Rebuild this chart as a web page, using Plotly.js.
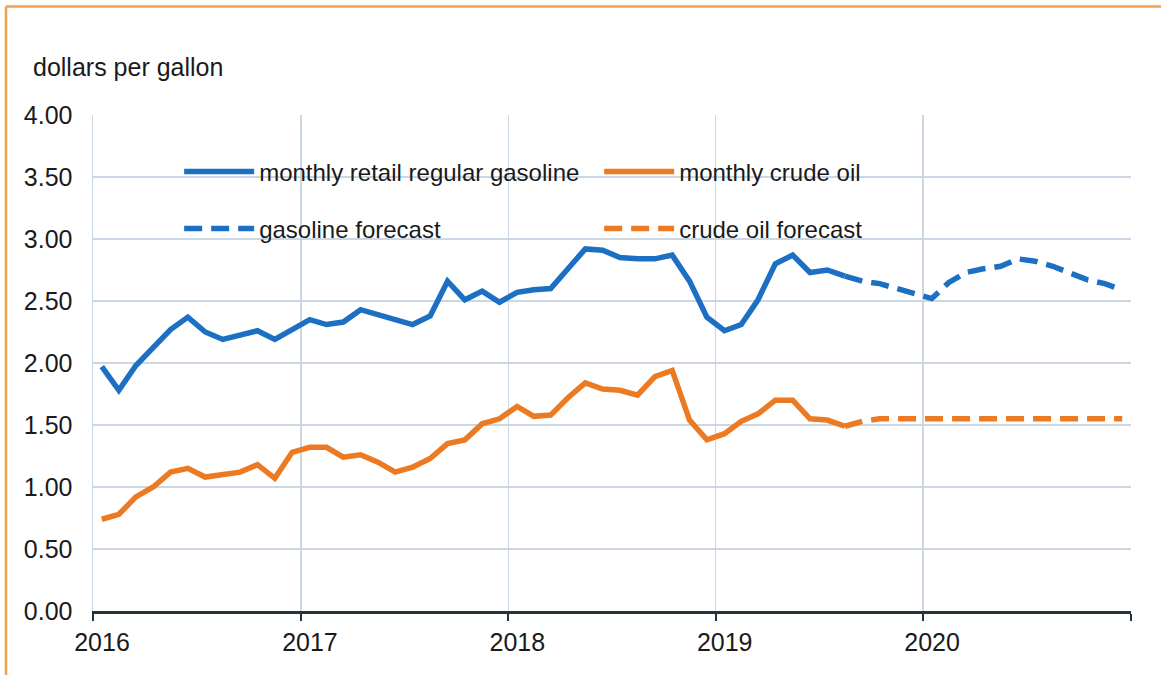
<!DOCTYPE html>
<html>
<head>
<meta charset="utf-8">
<script src="https://cdn.plot.ly/plotly-3.0.1.min.js"></script>
<style>
html,body{margin:0;padding:0;background:#ffffff;}
#chart{width:1161px;height:675px;}
</style>
</head>
<body>
<div id="chart"></div>
<script>
// Month categories Jan 2016 .. Dec 2020
const years = [2016, 2017, 2018, 2019, 2020];
const months = [];
years.forEach(function (y) {
  for (let m = 1; m <= 12; m++) months.push(y + '-' + (m < 10 ? '0' + m : m));
});

// Monthly history (Jan 2016 .. Aug 2019)
const gasoline = [1.97, 1.78, 1.98, 2.12, 2.27, 2.37, 2.25, 2.19, 2.23, 2.26, 2.19, 2.27,
                  2.35, 2.31, 2.33, 2.43, 2.39, 2.35, 2.31, 2.38, 2.66, 2.51, 2.58, 2.49,
                  2.57, 2.59, 2.60, 2.76, 2.92, 2.91, 2.85, 2.84, 2.84, 2.87, 2.66, 2.37,
                  2.26, 2.31, 2.51, 2.80, 2.87, 2.73, 2.75, 2.70];
const crude = [0.74, 0.78, 0.92, 1.00, 1.12, 1.15, 1.08, 1.10, 1.12, 1.18, 1.07, 1.28,
               1.32, 1.32, 1.24, 1.26, 1.20, 1.12, 1.16, 1.23, 1.35, 1.38, 1.51, 1.55,
               1.65, 1.57, 1.58, 1.72, 1.84, 1.79, 1.78, 1.74, 1.89, 1.94, 1.54, 1.38,
               1.43, 1.53, 1.59, 1.70, 1.70, 1.55, 1.54, 1.49];

// Forecast (Aug 2019 .. Dec 2020)
const gasolineForecast = [2.70, 2.66, 2.64, 2.60, 2.55, 2.52, 2.65, 2.73, 2.76, 2.78,
                          2.84, 2.82, 2.78, 2.72, 2.67, 2.64, 2.59];
const crudeForecast = [1.49, 1.53, 1.55, 1.55, 1.55, 1.55, 1.55, 1.55, 1.55, 1.55,
                       1.55, 1.55, 1.55, 1.55, 1.55, 1.55, 1.55];

const histMonths = months.slice(0, gasoline.length);
const fcMonths = months.slice(gasoline.length - 1, gasoline.length - 1 + gasolineForecast.length);

const yearTicks = ['2016-01-01', '2017-01-01', '2018-01-01', '2019-01-01', '2020-01-01', '2021-01-01'];
const yearLabels = ['2016', '2017', '2018', '2019', '2020', ''];
const yTicks = [0, 0.5, 1, 1.5, 2, 2.5, 3, 3.5, 4];

const BLUE = '#1c6fc3';
const ORANGE = '#ec7a22';
const GRID = '#cbd7e2';
const TEXT = '#1a1a1a';
const FONT = 'Liberation Sans, Arial, sans-serif';

const common = {mode: 'lines', xperiod: 'M1', xperiodalignment: 'middle', hoverinfo: 'x+y'};

const traces = [
  Object.assign({x: histMonths, y: gasoline, name: 'monthly retail regular gasoline',
    line: {color: BLUE, width: 5.5}, legend: 'legend'}, common),
  Object.assign({x: histMonths, y: crude, name: 'monthly crude oil',
    line: {color: ORANGE, width: 5.5}, legend: 'legend'}, common),
  Object.assign({x: fcMonths, y: gasolineForecast, name: 'gasoline forecast',
    line: {color: BLUE, width: 5.5, dash: '18px,9px'}, legend: 'legend2'}, common),
  Object.assign({x: fcMonths, y: crudeForecast, name: 'crude oil forecast',
    line: {color: ORANGE, width: 5.5, dash: '18px,9px'}, legend: 'legend2'}, common)
];

const legendBase = {
  orientation: 'h', xanchor: 'left', yanchor: 'middle', x: 0.083,
  bgcolor: 'rgba(0,0,0,0)', borderwidth: 0,
  font: {family: FONT, size: 24, color: TEXT},
  itemwidth: 70, entrywidth: 335, entrywidthmode: 'pixels',
  tracegroupgap: 0
};

const layout = {
  width: 1161, height: 675,
  paper_bgcolor: '#ffffff', plot_bgcolor: '#ffffff',
  margin: {l: 93, r: 30, t: 115, b: 64, pad: 0},
  font: {family: FONT, color: TEXT},
  title: {
    text: 'dollars per gallon',
    font: {family: FONT, size: 25, color: TEXT},
    xref: 'container', x: 33 / 1161, xanchor: 'left',
    yref: 'container', y: 1 - 67 / 675, yanchor: 'middle'
  },
  xaxis: {
    type: 'date', range: ['2016-01-01', '2021-01-01'],
    tickmode: 'array', tickvals: yearTicks, ticktext: yearLabels,
    ticklabelshift: 9, ticklabelstandoff: 0,
    showgrid: true, gridcolor: GRID, gridwidth: 1.5,
    showline: true, linecolor: '#25333b', linewidth: 2.5,
    ticks: 'outside', ticklen: 7, tickwidth: 2, tickcolor: '#25333b',
    tickfont: {family: FONT, size: 25, color: TEXT},
    zeroline: false, fixedrange: true
  },
  yaxis: {
    range: [0, 4], tickmode: 'array', tickvals: yTicks, tickformat: '.2f',
    showgrid: true, gridcolor: GRID, gridwidth: 1.5,
    showline: true, linecolor: GRID, linewidth: 1.5,
    ticks: '', ticklabelstandoff: 14,
    tickfont: {family: FONT, size: 25, color: TEXT},
    zeroline: false, fixedrange: true
  },
  legend: Object.assign({}, legendBase, {y: 1 - (172 - 115) / 496}),
  legend2: Object.assign({}, legendBase, {y: 1 - (229 - 115) / 496}),
  shapes: [
    {type: 'line', xref: 'paper', yref: 'paper',
     x0: (6 - 93) / 1038, x1: (1161 - 93) / 1038, y0: (611 - 6.5) / 496, y1: (611 - 6.5) / 496,
     line: {color: '#eca24e', width: 2.5}},
    {type: 'line', xref: 'paper', yref: 'paper',
     x0: (6 - 93) / 1038, x1: (6 - 93) / 1038, y0: (611 - 6.5) / 496, y1: (611 - 675) / 496,
     line: {color: '#eca24e', width: 2.5}}
  ],
  showlegend: true
};

Plotly.newPlot('chart', traces, layout, {displayModeBar: false, staticPlot: true});
</script>
</body>
</html>
